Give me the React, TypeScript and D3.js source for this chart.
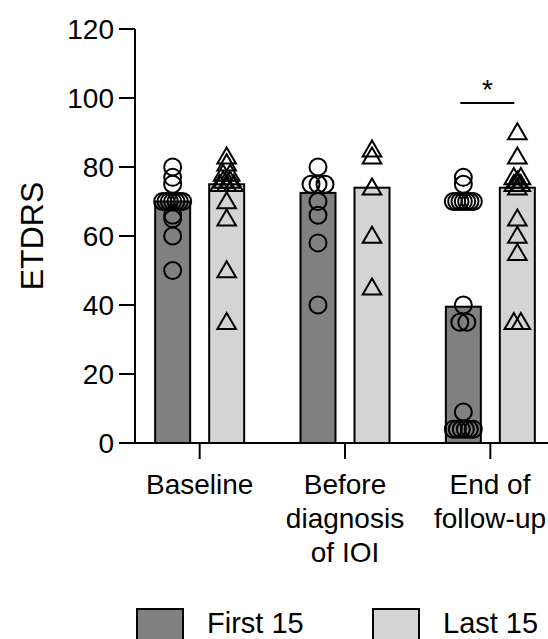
import React from "react";
import * as d3 from "d3";

const categories = ["Baseline", "Before diagnosis of IOI", "End of follow-up"];
const categoryLines = [["Baseline"], ["Before", "diagnosis", "of IOI"], ["End of", "follow-up"]];
const seriesNames = ["First 15", "Last 15"];
const barFirst = [70, 72.5, 39.5];
const barLast = [75, 74, 74];
const firstBaseline = [80, 77, 75, 70, 70, 70, 70, 70, 70, 70, 66, 65, 60, 50];
const lastBaseline = [83, 81, 78, 78, 76, 76, 75, 75, 75, 70, 65, 50, 35];
const firstBefore = [80, 75, 75, 75, 70, 66, 58, 40];
const lastBefore = [85, 83, 74, 60, 45];
const firstEnd = [77, 75, 70, 70, 70, 70, 70, 70, 70, 40, 35, 35, 9, 4, 4, 4, 4, 4, 4];
const lastEnd = [90, 83, 77, 77, 76, 75, 75, 74, 65, 60, 55, 35, 35];
const yTicks = [0, 20, 40, 60, 80, 100, 120];
const yLabel = "ETDRS";
const sigLabel = "*";

const W = 548;
const H = 639;
const FONT = "Liberation Sans, Arial, Helvetica, sans-serif";
const DARK = "#808080";
const LIGHT = "#d4d4d4";

function spread(values: number[]) {
  const counts = new Map<number, number>();
  values.forEach((v) => counts.set(v, (counts.get(v) || 0) + 1));
  const seen = new Map<number, number>();
  return values.map((v) => {
    const n = counts.get(v) || 1;
    const i = seen.get(v) || 0;
    seen.set(v, i + 1);
    const step = n > 1 ? Math.min(7, 20 / (n - 1)) : 0;
    return { v, dx: (i - (n - 1) / 2) * step };
  });
}

export default function App() {
  const y = d3.scaleLinear().domain([0, 120]).range([443, 29]);
  const x = d3.scaleBand<string>().domain(categories).range([127, 563]);
  const x1 = d3.scaleBand<string>().domain(seriesNames).range([-44.5, 44.5]).paddingInner(0.352).paddingOuter(0);
  const axisX = 135;
  const xEnd = 548;
  const bw = x1.bandwidth();

  const groups = [
    { first: firstBaseline, last: lastBaseline },
    { first: firstBefore, last: lastBefore },
    { first: firstEnd, last: lastEnd },
  ];
  const bars = [barFirst, barLast];
  const tri = d3.symbol().type(d3.symbolTriangle).size(150)();
  const circR = 8.5;

  return (
    <svg width={W} height={H} style={{ position: "absolute", left: 0, top: 0 }} fontFamily={FONT}>
      <rect width={W} height={H} fill="white" />
      {categories.map((c, ci) => {
        const cx = (x(c) as number) + x.bandwidth() / 2;
        return (
          <g key={c}>
            {seriesNames.map((s, si) => {
              const bx = cx + (x1(s) as number);
              const v = bars[si][ci];
              return (
                <rect key={s} x={bx} y={y(v)} width={bw} height={y(0) - y(v)}
                  fill={si === 0 ? DARK : LIGHT} stroke="black" strokeWidth={2} />
              );
            })}
          </g>
        );
      })}
      {categories.map((c, ci) => {
        const cx = (x(c) as number) + x.bandwidth() / 2;
        const g = groups[ci];
        const fx = cx + (x1(seriesNames[0]) as number) + bw / 2;
        const lx = cx + (x1(seriesNames[1]) as number) + bw / 2;
        return (
          <g key={"p" + c}>
            {spread(g.first).map((p, i) => (
              <circle key={"c" + i} cx={fx + p.dx} cy={y(p.v)} r={circR} fill="none" stroke="black" strokeWidth={2} />
            ))}
            {spread(g.last).map((p, i) => (
              <path key={"t" + i} d={tri as string} transform={`translate(${lx + p.dx},${y(p.v) + 1.5})`}
                fill="none" stroke="black" strokeWidth={2} strokeLinejoin="miter" />
            ))}
          </g>
        );
      })}
      {/* y axis */}
      <line x1={axisX} x2={axisX} y1={y(120)} y2={y(0)} stroke="black" strokeWidth={2} />
      {yTicks.map((t) => (
        <g key={t}>
          <line x1={axisX - 16} x2={axisX} y1={y(t)} y2={y(t)} stroke="black" strokeWidth={2} />
          <text x={axisX - 21} y={y(t)} dy="0.36em" textAnchor="end" fontSize={28} fill="black">{t}</text>
        </g>
      ))}
      <text transform={`translate(43,${(y(0) + y(120)) / 2}) rotate(-90)`} textAnchor="middle" fontSize={32} fill="black">{yLabel}</text>
      {/* x axis */}
      <line x1={axisX - 1} x2={xEnd} y1={y(0)} y2={y(0)} stroke="black" strokeWidth={2} />
      {categories.map((c, ci) => {
        const cx = (x(c) as number) + x.bandwidth() / 2;
        return (
          <g key={"x" + c}>
            <line x1={cx} x2={cx} y1={y(0)} y2={y(0) + 16} stroke="black" strokeWidth={2} />
            <text x={cx} y={494} textAnchor="middle" fontSize={28} fill="black">
              {categoryLines[ci].map((l, li) => (
                <tspan key={li} x={ci === 2 ? Math.min(cx, 546 - 56) : cx} dy={li === 0 ? 0 : 34}>{l}</tspan>
              ))}
            </text>
          </g>
        );
      })}
      {/* significance */}
      {(() => {
        const cx = (x(categories[2]) as number) + x.bandwidth() / 2;
        const a = cx + (x1(seriesNames[0]) as number) + bw / 2 - 3;
        const b = cx + (x1(seriesNames[1]) as number) + bw / 2 - 3;
        return (
          <g>
            <line x1={a} x2={b} y1={103} y2={103} stroke="black" strokeWidth={2} />
            <text x={(a + b) / 2} y={99} textAnchor="middle" fontSize={28} fill="black">{sigLabel}</text>
          </g>
        );
      })()}
      {/* legend */}
      {seriesNames.map((s, si) => {
        const lx = si === 0 ? 137 : 373;
        return (
          <g key={"l" + s}>
            <rect x={lx} y={609} width={46} height={46} fill={si === 0 ? DARK : LIGHT} stroke="black" strokeWidth={2} />
            <text x={lx + 70} y={633} fontSize={29} fill="black">{s}</text>
          </g>
        );
      })}
    </svg>
  );
}
